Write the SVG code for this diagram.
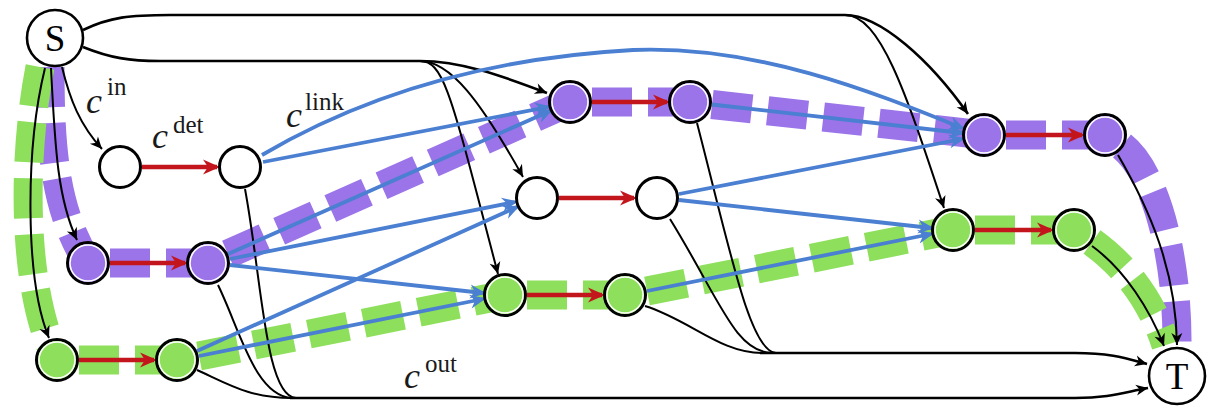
<svg xmlns="http://www.w3.org/2000/svg" width="1207" height="407" viewBox="0 0 1207 407">
<style>
.hlp{fill:none;stroke:#9a74e8;stroke-width:29;stroke-dasharray:40 16}
.hlg{fill:none;stroke:#8ddf5c;stroke-width:29;stroke-dasharray:40 16}
.bk{fill:none;stroke:#000;stroke-width:2}
.bk2{fill:none;stroke:#000;stroke-width:2.6}
.bl{fill:none;stroke:#4a7fd1;stroke-width:3.8}
.rd{fill:none;stroke:#c3161c;stroke-width:4.5}
.nw{fill:#fff;stroke:#000;stroke-width:3}
.np{fill:#9a74e8;stroke:#000;stroke-width:3}
.ng{fill:#8ddf5c;stroke:#000;stroke-width:3}
.ring{fill:none;stroke:#fff;stroke-width:1.5}
.big{fill:#fff;stroke:#000;stroke-width:2.6}
.lbl{font-family:"Liberation Serif",serif;fill:#000}
.ci{font-family:"Liberation Serif",serif;font-style:italic;font-size:36px;fill:#1a1a1a}
.sup{font-family:"Liberation Serif",serif;font-size:25px;fill:#1a1a1a}
</style>
<defs>
<marker id="ab" viewBox="-14 -7 16 14" refX="0" refY="0" markerWidth="16" markerHeight="14" markerUnits="userSpaceOnUse" orient="auto"><path d="M0,0 L-12,-5.5 L-8.5,0 L-12,5.5 z" fill="#000"/></marker>
<marker id="ar" viewBox="-20 -10 24 20" refX="-3" refY="0" markerWidth="24" markerHeight="20" markerUnits="userSpaceOnUse" orient="auto"><path d="M0,0 L-17,-7.5 L-12,0 L-17,7.5 z" fill="#c3161c"/></marker>
<marker id="abl" viewBox="-20 -10 24 20" refX="-3" refY="0" markerWidth="24" markerHeight="20" markerUnits="userSpaceOnUse" orient="auto"><path d="M0,0 L-16,-7 L-11,0 L-16,7 z" fill="#4a7fd1"/></marker>
</defs>
<rect width="1207" height="407" fill="#fff"/>
<g id="highlights">
<path class="hlp" d="M50 67 C50 150 55 210 88 263"/>
<path class="hlp" d="M110 263 L208 263"/>
<path class="hlp" d="M228 254 L570 102"/>
<path class="hlp" d="M592 102 L690 102"/>
<path class="hlp" d="M712 104.5 L984 135"/>
<path class="hlp" d="M1006 135 L1105 135"/>
<path class="hlp" d="M1122 146 C1155 172 1178 255 1177 348"/>
<path class="hlg" d="M40 67 C22 160 22 290 57 360"/>
<path class="hlg" d="M79 360 L177 360"/>
<path class="hlg" d="M199 356 L505 295"/>
<path class="hlg" d="M527 295 L625 295"/>
<path class="hlg" d="M647 291 L953 230"/>
<path class="hlg" d="M975 230 L1074 230"/>
<path class="hlg" d="M1092 242 C1120 262 1150 295 1166 345"/>
</g>
<g id="connectors">
<path class="bk2" d="M83 30 C110 17 130 15 170 15 L845 15 C880 15 930 60 968 114" marker-end="url(#ab)"/>
<path class="bk" d="M845 15 C880 15 905 90 944 208" marker-end="url(#ab)"/>
<path class="bk2" d="M83 47 C110 58 130 61 160 61 L420 61 C460 61 500 75 547 93" marker-end="url(#ab)"/>
<path class="bk" d="M420 61 C450 61 480 100 523 177" marker-end="url(#ab)"/>
<path class="bk" d="M420 61 C445 61 452 100 498 274" marker-end="url(#ab)"/>
<path class="bk" d="M62 67 C70 100 80 125 102 149" marker-end="url(#ab)"/>
<path class="bk" d="M51 68 C55 150 58 200 77 240" marker-end="url(#ab)"/>
<path class="bk" d="M45 68 C25 150 25 280 49 338" marker-end="url(#ab)"/>
<path class="bk" d="M197 370 C230 385 250 398 292 398"/>
<path class="bk" d="M218 285 C240 330 255 396 292 398"/>
<path class="bk" d="M245 189 C262 280 265 396 296 398"/>
<path class="bk2" d="M290 398 L1075 398 C1110 398 1125 392 1148 388" marker-end="url(#ab)"/>
<path class="bk" d="M670 219 C720 300 735 352 772 353"/>
<path class="bk" d="M697 123 C730 250 750 352 776 353"/>
<path class="bk" d="M645 306 C690 320 720 353 762 353"/>
<path class="bk2" d="M760 353 L1075 353 C1110 353 1125 358 1147 364" marker-end="url(#ab)"/>
<path class="bk" d="M1118 155 C1150 210 1176 270 1177 345" marker-end="url(#ab)"/>
<path class="bk" d="M1092 246 C1125 270 1150 310 1164 346" marker-end="url(#ab)"/>
<path class="bl" d="M262 155 C330 115 450 60 633 50 C760 45 880 95 962 128" marker-end="url(#abl)"/>
<path class="bl" d="M263 162 L548 107" marker-end="url(#abl)"/>
<path class="bl" d="M228 254 L550 111" marker-end="url(#abl)"/>
<path class="bl" d="M230 259 L515 202" marker-end="url(#abl)"/>
<path class="bl" d="M230 265 L483 293" marker-end="url(#abl)"/>
<path class="bl" d="M197 351 L517 207" marker-end="url(#abl)"/>
<path class="bl" d="M199 356 L483 299" marker-end="url(#abl)"/>
<path class="bl" d="M712 104.5 L962 133" marker-end="url(#abl)"/>
<path class="bl" d="M679 194 L962 139" marker-end="url(#abl)"/>
<path class="bl" d="M679 200 L931 228" marker-end="url(#abl)"/>
<path class="bl" d="M647 291 L931 234" marker-end="url(#abl)"/>
<path class="rd" d="M142 167 L217 167" marker-end="url(#ar)"/>
<path class="rd" d="M110 263 L185 263" marker-end="url(#ar)"/>
<path class="rd" d="M79 360 L154 360" marker-end="url(#ar)"/>
<path class="rd" d="M592 102 L667 102" marker-end="url(#ar)"/>
<path class="rd" d="M559 198 L634 198" marker-end="url(#ar)"/>
<path class="rd" d="M527 295 L602 295" marker-end="url(#ar)"/>
<path class="rd" d="M1006 135 L1082 135" marker-end="url(#ar)"/>
<path class="rd" d="M975 230 L1051 230" marker-end="url(#ar)"/>
</g>
<g id="S"><circle class="big" cx="55" cy="38" r="28"/><text class="lbl" x="55" y="51" font-size="37" text-anchor="middle">S</text></g>
<g id="T"><circle class="big" cx="1177" cy="376" r="28"/><text class="lbl" x="1177" y="389" font-size="37" text-anchor="middle">T</text></g>
<g id="A"><circle class="nw" cx="120" cy="167" r="20.5"/></g>
<g id="B"><circle class="nw" cx="240" cy="167" r="20.5"/></g>
<g id="W1"><circle class="nw" cx="537" cy="198" r="20.5"/></g>
<g id="W2"><circle class="nw" cx="657" cy="198" r="20.5"/></g>
<g id="P1"><circle class="np" cx="88" cy="263" r="20.5"/><circle class="ring" cx="88" cy="263" r="18"/></g>
<g id="P2"><circle class="np" cx="208" cy="263" r="20.5"/><circle class="ring" cx="208" cy="263" r="18"/></g>
<g id="P3"><circle class="np" cx="570" cy="102" r="20.5"/><circle class="ring" cx="570" cy="102" r="18"/></g>
<g id="P4"><circle class="np" cx="690" cy="102" r="20.5"/><circle class="ring" cx="690" cy="102" r="18"/></g>
<g id="P5"><circle class="np" cx="984" cy="135" r="20.5"/><circle class="ring" cx="984" cy="135" r="18"/></g>
<g id="P6"><circle class="np" cx="1105" cy="135" r="20.5"/><circle class="ring" cx="1105" cy="135" r="18"/></g>
<g id="G1"><circle class="ng" cx="57" cy="360" r="20.5"/><circle class="ring" cx="57" cy="360" r="18"/></g>
<g id="G2"><circle class="ng" cx="177" cy="360" r="20.5"/><circle class="ring" cx="177" cy="360" r="18"/></g>
<g id="G3"><circle class="ng" cx="505" cy="295" r="20.5"/><circle class="ring" cx="505" cy="295" r="18"/></g>
<g id="G4"><circle class="ng" cx="625" cy="295" r="20.5"/><circle class="ring" cx="625" cy="295" r="18"/></g>
<g id="G5"><circle class="ng" cx="953" cy="230" r="20.5"/><circle class="ring" cx="953" cy="230" r="18"/></g>
<g id="G6"><circle class="ng" cx="1074" cy="230" r="20.5"/><circle class="ring" cx="1074" cy="230" r="18"/></g>
<g id="labels">
<text class="ci" x="86" y="113">c</text><text class="sup" x="107" y="95">in</text>
<text class="ci" x="152" y="148">c</text><text class="sup" x="173" y="133">det</text>
<text class="ci" x="286" y="127">c</text><text class="sup" x="305" y="110">link</text>
<text class="ci" x="404" y="388">c</text><text class="sup" x="425" y="372">out</text>
</g>
</svg>
